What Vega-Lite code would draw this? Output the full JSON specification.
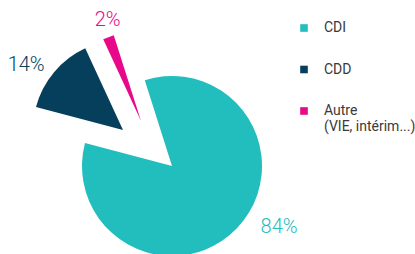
{
  "$schema": "https://vega.github.io/schema/vega-lite/v6.json",
  "width": 344,
  "height": 176,
  "autosize": {"type": "none"},
  "padding": {"left": 0, "top": 78, "right": 71, "bottom": 0},
  "background": "white",
  "config": {"view": {"stroke": null}, "font": "Roboto"},
  "data": {
    "values": [
      {"cat": "CDI", "v": 84, "label": "84%"},
      {"cat": "CDD", "v": 14, "label": "14%"},
      {"cat": "Autre", "v": 2, "label": "2%"}
    ]
  },
  "encoding": {
    "theta": {"field": "v", "type": "quantitative", "stack": true, "scale": {"domain": [0, 100], "range": [5.976, 12.259]}},
    "order": {"field": "v", "sort": "descending"},
    "color": {
      "field": "cat", "type": "nominal",
      "scale": {"domain": ["CDI", "CDD", "Autre"], "range": ["#22BDBD", "#063F5C", "#E8088A"]},
      "legend": {
        "title": null, "orient": "none", "legendX": 297, "legendY": -57,
        "symbolType": "square", "symbolSize": 58, "symbolStrokeWidth": 0,
        "labelFont": "Roboto", "labelFontSize": 14, "labelColor": "#3a3a3a",
        "labelOffset": 13, "rowPadding": 27.5, "padding": 0,
        "labelExpr": "datum.value == 'Autre' ? ['Autre', '(VIE, intérim...)'] : datum.value"
      }
    }
  },
  "layer": [
    {"mark": {"type": "arc", "outerRadius": 90}, "encoding": {"opacity": {"condition": {"test": "datum.cat === 'CDI'", "value": 1}, "value": 0}}},
    {"mark": {"type": "arc", "outerRadius": 90, "xOffset": -49, "yOffset": -36}, "encoding": {"opacity": {"condition": {"test": "datum.cat === 'CDD'", "value": 1}, "value": 0}}},
    {"mark": {"type": "arc", "outerRadius": 90, "xOffset": -31, "yOffset": -45}, "encoding": {"opacity": {"condition": {"test": "datum.cat === 'Autre'", "value": 1}, "value": 0}}},
    {"mark": {"type": "text", "radius": 123, "dx": 18, "dy": -24, "fontSize": 20, "fontWeight": 300, "align": "center", "baseline": "middle"}, "encoding": {"text": {"field": "label"}, "opacity": {"condition": {"test": "datum.cat === 'CDI'", "value": 1}, "value": 0}}},
    {"mark": {"type": "text", "radius": 116, "xOffset": -49, "yOffset": -36, "dx": -8, "dy": 10, "fontSize": 20, "fontWeight": 300, "align": "center", "baseline": "middle"}, "encoding": {"text": {"field": "label"}, "opacity": {"condition": {"test": "datum.cat === 'CDD'", "value": 1}, "value": 0}}},
    {"mark": {"type": "text", "radius": 106, "xOffset": -31, "yOffset": -45, "dx": 5, "dy": -2, "fontSize": 20, "fontWeight": 300, "align": "center", "baseline": "middle"}, "encoding": {"text": {"field": "label"}, "opacity": {"condition": {"test": "datum.cat === 'Autre'", "value": 1}, "value": 0}}}
  ]
}
